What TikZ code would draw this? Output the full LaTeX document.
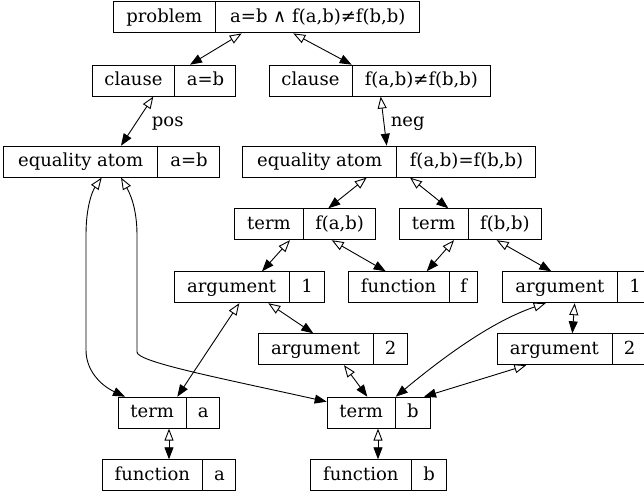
\documentclass[tikz,border=0pt]{standalone}
\usepackage{fontspec}
\setmainfont{DejaVu Serif}
\usetikzlibrary{arrows.meta}
\newcommand{\recf}[4]{\makebox[#1pt]{#2}\vrule width 0.9pt height 20.8pt depth 10.2pt\makebox[#3pt]{#4}}
\tikzset{
  rec/.style={draw, line width=0.9pt, inner sep=0pt, anchor=north west, font=\fontsize{18}{21}\selectfont},
  biarrow/.style={line width=0.9pt, arrows={Triangle[open,length=12pt,width=9pt]-Triangle[length=12pt,width=9pt]}},
  lbl/.style={inner sep=0pt, anchor=base west, font=\fontsize{18}{21}\selectfont}
}
\begin{document}
\begin{tikzpicture}[x=1pt,y=1pt]
\useasboundingbox (0,0) rectangle (644,494);
\clip (0,0) rectangle (644,494);
% records
\node[rec] (prob) at (113,492.5) {\recf{101.7}{problem}{203.5}{a=b ∧ f(a,b)≠f(b,b)}};
\node[rec] (cl1) at (92,429.3) {\recf{82}{clause}{60.5}{a=b}};
\node[rec] (cl2) at (268.7,429.3) {\recf{82.6}{clause}{137.5}{f(a,b)≠f(b,b)}};
\node[rec] (eq1) at (3.3,348.3) {\recf{153.7}{equality atom}{61.2}{a=b}};
\node[rec] (eq2) at (242.3,348.3) {\recf{153.7}{equality atom}{138.2}{f(a,b)=f(b,b)}};
\node[rec] (t1) at (234.3,285.7) {\recf{68.4}{term}{71.2}{f(a,b)}};
\node[rec] (t2) at (399.3,285.7) {\recf{68}{term}{72.5}{f(b,b)}};
\node[rec] (a1L) at (173.7,222.7) {\recf{115}{argument}{33.9}{1}};
\node[rec] (ff) at (348,222.7) {\recf{100.3}{function}{28.2}{f}};
\node[rec] (a1R) at (502.3,222.7) {\recf{114.4}{argument}{33.9}{1}};
\node[rec] (a2L) at (257.7,160.7) {\recf{115}{argument}{33.2}{2}};
\node[rec] (a2R) at (496.7,160.7) {\recf{114.6}{argument}{33.9}{2}};
\node[rec] (ta) at (117.7,97.3) {\recf{68}{term}{32.5}{a}};
\node[rec] (tb) at (326.7,97.3) {\recf{68}{term}{33.9}{b}};
\node[rec] (fa) at (101.7,34.7) {\recf{100.3}{function}{32.5}{a}};
\node[rec] (fb) at (310,34.7) {\recf{100.7}{function}{34.2}{b}};
% labels
\node[lbl] (pos) at (151.7,367.3) {pos};
\node[lbl] (neg) at (390.7,367.3) {neg};
% edges
\draw[biarrow] ([xshift=128.7pt]prob.south west) -- ([xshift=98pt]cl1.north west);
\draw[biarrow] ([xshift=180.3pt]prob.south west) -- ([xshift=83pt]cl2.north west);
\draw[biarrow] ([xshift=61.3pt]cl1.south west) -- ([xshift=117.7pt]eq1.north west);
\draw[biarrow] ([xshift=112pt]cl2.south west) -- ([xshift=144.4pt]eq2.north west);
\draw[biarrow] ([xshift=124.4pt]eq2.south west) -- ([xshift=94pt]t1.north west);
\draw[biarrow] ([xshift=167.7pt]eq2.south west) -- ([xshift=49pt]t2.north west);
\draw[biarrow] ([xshift=55.7pt]t1.south west) -- ([xshift=88.3pt]a1L.north west);
\draw[biarrow] ([xshift=97.4pt]t1.south west) -- ([xshift=37.7pt]ff.north west);
\draw[biarrow] ([xshift=54.7pt]t2.south west) -- ([xshift=78.7pt]ff.north west);
\draw[biarrow] ([xshift=97.4pt]t2.south west) -- ([xshift=49pt]a1R.north west);
\draw[biarrow] ([xshift=94.6pt]a1L.south west) -- ([xshift=55.6pt]a2L.north west);
\draw[biarrow] ([xshift=65.6pt]a1L.south west) -- ([xshift=59.6pt]ta.north west);
\draw[biarrow] ([xshift=72.4pt]a1R.south west) -- ([xshift=75.6pt]a2R.north west);
\draw[biarrow] ([xshift=43.4pt]a1R.south west) .. controls (490,172) and (440,134) .. ([xshift=69pt]tb.north west);
\draw[biarrow] ([xshift=86.3pt]a2L.south west) -- ([xshift=40.6pt]tb.north west);
\draw[biarrow] ([xshift=29.6pt]a2R.south west) -- ([xshift=97.3pt]tb.north west);
\draw[biarrow] ([xshift=51.3pt]ta.south west) -- ([xshift=67.3pt]fa.north west);
\draw[biarrow] ([xshift=51.3pt]tb.south west) -- ([xshift=68pt]fb.north west);
\draw[biarrow] ([xshift=98.4pt]eq1.south west) .. controls (93,304) and (86,289) .. (86,259) -- (86,144) .. controls (86,124) and (100,109) .. ([xshift=7.3pt]ta.north west);
\draw[biarrow] ([xshift=117.7pt]eq1.south west) .. controls (128,304) and (137,289) .. (137,259) -- (137,142) .. controls (137,132) and (220,116) .. ([yshift=-5pt]tb.north west);
\end{tikzpicture}
\end{document}
